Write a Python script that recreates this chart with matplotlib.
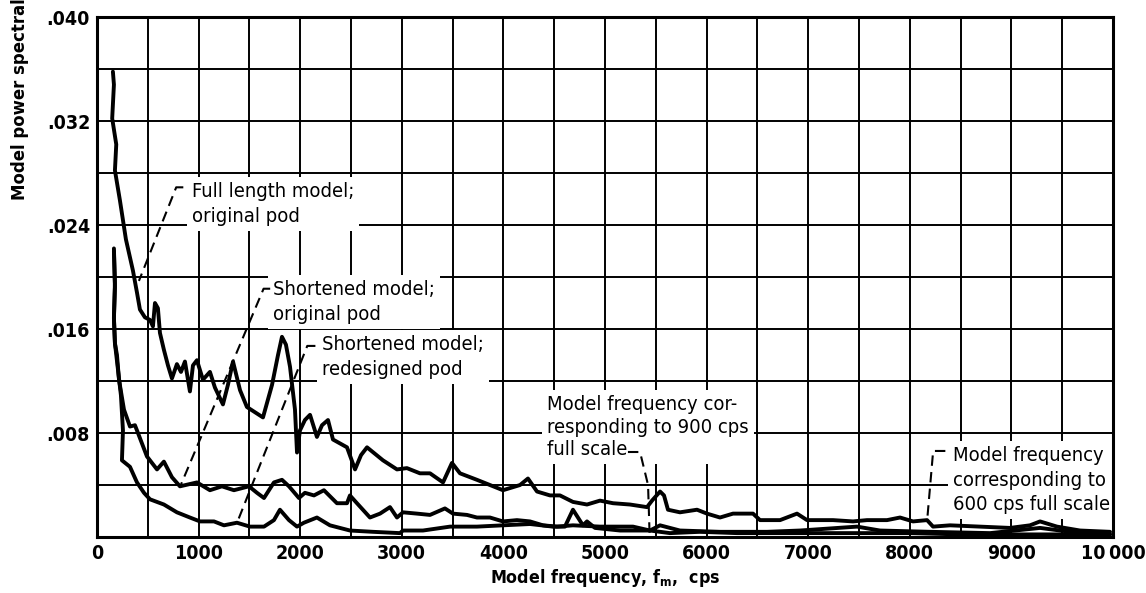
import matplotlib
matplotlib.use("Agg")
import matplotlib.pyplot as plt
from matplotlib import font_manager as fm

# Full length model; original pod
freq_full = [157, 167, 150, 190, 177, 226, 285, 354, 394, 423, 472, 522, 551, 571, 600,
             620, 659, 699, 738, 787, 827, 866, 915, 945, 984, 1043, 1112, 1161, 1240,
             1289, 1339, 1408, 1476, 1634, 1723, 1782, 1821, 1860, 1900, 1949, 1969, 1998,
             2047, 2097, 2165, 2215, 2274, 2323, 2461, 2540, 2599, 2658, 2815, 2953, 3051,
             3179, 3278, 3406, 3494, 3573, 3740, 3868, 3996, 4164, 4242, 4331, 4459, 4557,
             4685, 4823, 4951, 5079, 5246, 5414, 5463, 5542, 5581, 5620, 5738, 5906, 6004,
             6132, 6260, 6457, 6526, 6723, 6890, 6989, 7245, 7441, 7579, 7776, 7904, 8032,
             8170, 8229, 8396, 8691, 8986, 9183, 9282, 9449, 9676, 9971]
psd_full = [0.0358, 0.0348, 0.0322, 0.0302, 0.0282, 0.0259, 0.0229, 0.0205, 0.0188, 0.0175,
            0.0169, 0.0167, 0.0162, 0.0180, 0.0176, 0.0157, 0.0144, 0.0132, 0.0122, 0.0133,
            0.0127, 0.0135, 0.0112, 0.0132, 0.0136, 0.0121, 0.0127, 0.0115, 0.0102, 0.0117,
            0.0135, 0.0113, 0.0100, 0.0092, 0.0117, 0.0140, 0.0154, 0.0148, 0.0131, 0.0098,
            0.0065, 0.0082, 0.0090, 0.0094, 0.0077, 0.0086, 0.0090, 0.0075, 0.0069, 0.0052,
            0.0063, 0.0069, 0.0059, 0.0052, 0.0053, 0.0049, 0.0049, 0.0042, 0.0057, 0.0049,
            0.0044, 0.0040, 0.0036, 0.0040, 0.0045, 0.0035, 0.0032, 0.0032, 0.0027, 0.0025,
            0.0028, 0.0026, 0.0025, 0.0023, 0.0028, 0.0035, 0.0032, 0.0021, 0.0019, 0.0021,
            0.0018, 0.0015, 0.0018, 0.0018, 0.0013, 0.0013, 0.0018, 0.0013, 0.0013, 0.0012,
            0.0013, 0.0013, 0.0015, 0.0012, 0.0013, 0.0008, 0.0009, 0.0008, 0.0007, 0.0009,
            0.0012, 0.0008, 0.0005, 0.0004]

# Shortened model; original pod
freq_short = [167, 177, 167, 177, 197, 217, 266, 325, 374, 394, 443, 492, 591, 659, 738,
              817, 984, 1112, 1230, 1348, 1496, 1575, 1644, 1742, 1821, 1890, 1988, 2047,
              2136, 2234, 2362, 2461, 2490, 2559, 2687, 2786, 2884, 2953, 3012, 3150, 3278,
              3425, 3504, 3642, 3740, 3868, 3996, 4134, 4262, 4390, 4528, 4685, 4951, 5276,
              5443, 5542, 5738, 6132, 6595, 6920, 7481, 7707, 8200, 8790, 9282, 9676, 9971]
psd_short = [0.0222, 0.0195, 0.0169, 0.0149, 0.0140, 0.0121, 0.0098, 0.0085, 0.0086, 0.0082,
             0.0072, 0.0062, 0.0052, 0.0058, 0.0046, 0.0039, 0.0042, 0.0036, 0.0039, 0.0036,
             0.0039, 0.0034, 0.0030, 0.0042, 0.0044, 0.0039, 0.0030, 0.0034, 0.0032, 0.0036,
             0.0026, 0.0026, 0.0032, 0.0026, 0.0015, 0.0018, 0.0023, 0.0015, 0.0019, 0.0018,
             0.0017, 0.0022, 0.0018, 0.0017, 0.0015, 0.0015, 0.0012, 0.0013, 0.0012, 0.0009,
             0.0008, 0.0009, 0.0008, 0.0008, 0.0005, 0.0009, 0.0005, 0.0004, 0.0004, 0.0005,
             0.0008, 0.0005, 0.0004, 0.0003, 0.0007, 0.0003, 0.0002]

# Shortened model; redesigned pod
freq_redes = [167, 177, 167, 177, 236, 256, 246, 325, 394, 463, 522, 659, 787, 915, 1014,
              1152, 1250, 1378, 1506, 1644, 1742, 1801, 1890, 1969, 2037, 2165, 2293, 2490,
              2717, 2982, 3012, 3209, 3475, 3740, 3996, 4262, 4488, 4606, 4685, 4783, 4823,
              4902, 5148, 5443, 5640, 5935, 6300, 6900, 7500, 8000, 8500, 9000, 9500, 9971]
psd_redes = [0.0220, 0.0192, 0.0168, 0.0149, 0.0109, 0.0082, 0.0059, 0.0054, 0.0042, 0.0034,
             0.0029, 0.0025, 0.0019, 0.0015, 0.0012, 0.0012, 0.0009, 0.0011, 0.0008, 0.0008,
             0.0013, 0.0021, 0.0013, 0.0008, 0.0011, 0.0015, 0.0009, 0.0005, 0.0004, 0.0003,
             0.0005, 0.0005, 0.0008, 0.0008, 0.0009, 0.0010, 0.0008, 0.0008, 0.0021, 0.0009,
             0.0012, 0.0007, 0.0005, 0.0005, 0.0003, 0.0004, 0.0003, 0.0003, 0.0003, 0.0003,
             0.0002, 0.0002, 0.0002, 0.0002]

x_ticks = list(range(0, 10001, 500))
x_tick_labels = ["0", "", "1000", "", "2000", "", "3000", "", "4000", "", "5000", "",
                 "6000", "", "7000", "", "8000", "", "9000", "", "10\u2009000"]
y_ticks = [0.0, 0.004, 0.008, 0.012, 0.016, 0.020, 0.024, 0.028, 0.032, 0.036, 0.040]
y_tick_labels = ["", "", ".008", "", ".016", "", ".024", "", ".032", "", ".040"]

# condensed DejaVu is installed, the scan uses a narrow face
narrow = fm.FontProperties(family="DejaVu Sans", stretch="condensed", size=14.5)
narrow_b = fm.FontProperties(family="DejaVu Sans", stretch="condensed", weight="bold", size=14)
label_b = fm.FontProperties(family="DejaVu Sans", stretch="condensed", weight="bold", size=12.8)
ylab_b = fm.FontProperties(family="DejaVu Sans", stretch="condensed", weight="bold", size=13.2)

fig = plt.figure(figsize=(11.46, 5.93), dpi=100)
ax = fig.add_axes([0.0846, 0.0944, 0.8866, 0.8769])

ax.set_xlim(0, 10000)
ax.set_ylim(0, 0.040)
ax.set_xticks(x_ticks)
ax.set_xticklabels(x_tick_labels, fontproperties=narrow_b)
ax.set_yticks(y_ticks)
ax.set_yticklabels(y_tick_labels, fontproperties=narrow_b)
ax.tick_params(length=0, pad=5)
ax.grid(True, color="black", linewidth=1.4)
ax.set_axisbelow(True)
for sp in ax.spines.values():
    sp.set_linewidth(2.2)

for fx, py in [(freq_full, psd_full), (freq_short, psd_short), (freq_redes, psd_redes)]:
    ax.plot(fx, py, color="black", linewidth=2.8, solid_joinstyle="round",
            solid_capstyle="round", zorder=3)

box = dict(boxstyle="square,pad=0.25", facecolor="white", edgecolor="none")
txt_kw = dict(fontproperties=narrow, ha="left", va="center", bbox=box, zorder=2)

ax.text(935, 0.02562, "Full length model;\noriginal pod", linespacing=1.4, **txt_kw)
ax.text(1732, 0.01808, "Shortened model;\noriginal pod", linespacing=1.4, **txt_kw)
ax.text(2215, 0.01388, "Shortened model;\nredesigned pod", linespacing=1.4, **txt_kw)
ax.text(4430, 0.00846, "Model frequency cor-\nresponding to 900 cps\nfull scale",
        linespacing=1.25, **txt_kw)
ax.text(8426, 0.00438, "Model frequency\ncorresponding to\n600 cps full scale",
        linespacing=1.35, **txt_kw)

# dashed leaders
lead_kw = dict(color="black", linewidth=1.5, dashes=(5, 3), zorder=4)
ax.plot([850, 780, 413], [0.0269, 0.0269, 0.0197], **lead_kw)
ax.plot([1705, 1640, 817], [0.0191, 0.0191, 0.00385], **lead_kw)
ax.plot([2150, 2070, 1378], [0.0147, 0.0147, 0.00108], **lead_kw)
ax.plot([5226, 5345, 5424, 5440], [0.00654, 0.00654, 0.0040, 0.0], **lead_kw)
ax.plot([8350, 8230, 8170], [0.00662, 0.00662, 0.0012], **lead_kw)

ax.set_xlabel("Model frequency, $\\mathregular{f_m}$,  cps", fontproperties=label_b,
              labelpad=3)

# y label runs off the top edge, as in the scan
fig.text(20 / 1146, (593 - 200) / 593, "Model power spectral density",
         rotation=90, ha="center", va="bottom", fontproperties=ylab_b)

fig.savefig("out.png", dpi=100)
